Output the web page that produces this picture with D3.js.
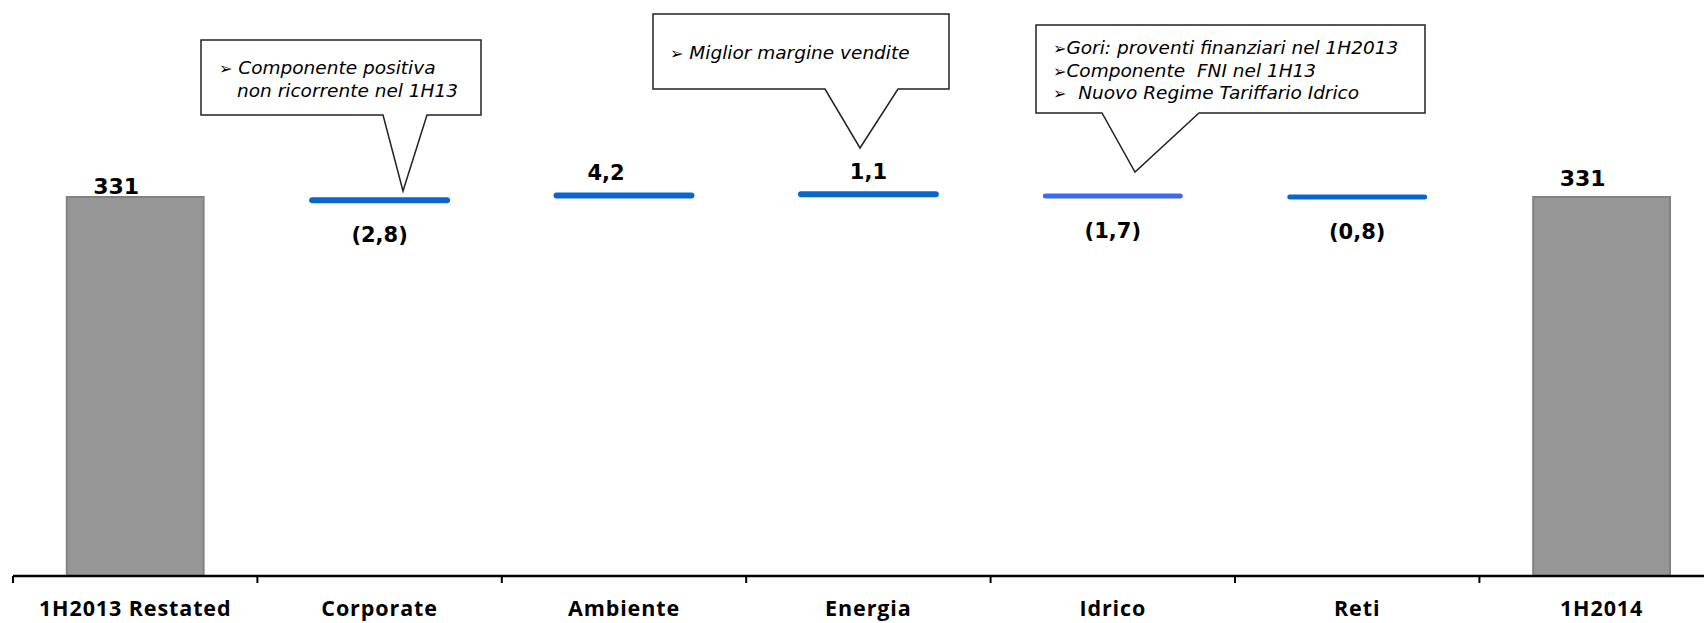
<!DOCTYPE html>
<html>
<head>
<meta charset="utf-8">
<script src="https://cdn.jsdelivr.net/npm/d3@7"></script>
<style>
  html, body { margin: 0; padding: 0; background: #fff; overflow: hidden; }
  .cat { font-family: "Open Sans", sans-serif; font-weight: 700; font-size: 21.5px; letter-spacing: 0.9px; }
  .val { font-family: "DejaVu Sans", Verdana, sans-serif; font-weight: 700; }
  .note { font-family: "DejaVu Sans", Verdana, sans-serif; font-style: italic; font-size: 18.5px; white-space: pre; }
</style>
</head>
<body>
<div id="chart"></div>
<script>
(function () {

  // categories of the waterfall
  var categories = ["1H2013 Restated", "Corporate", "Ambiente", "Energia", "Idrico", "Reti", "1H2014"];
  // "total" = full bar, "delta" = floating step
  var kinds = ["total", "delta", "delta", "delta", "delta", "delta", "total"];
  var values = [331, -2.8, 4.2, 1.1, -1.7, -0.8, 331];
  var valueLabels = ["331", "(2,8)", "4,2", "1,1", "(1,7)", "(0,8)", "331"];

  // callout texts, one entry per commented category
  var noteCategories = ["Corporate", "Energia", "Idrico"];
  var noteLines = [
    ["\u27A2 Componente positiva", "non ricorrente nel 1H13"],
    ["\u27A2 Miglior margine vendite"],
    ["\u27A2Gori: proventi finanziari nel 1H2013", "\u27A2Componente  FNI nel 1H13", "\u27A2  Nuovo Regime Tariffario Idrico"]
  ];

  var w = 1704,
    h = 623,
    axisY = 576,
    svg, x, y, rows;

  // callout boxes placed by hand like in the slide
  var noteLayout = {
    "Corporate": { x0: 201, y0: 40, x1: 481, y1: 115, b0: 383, b1: 427, tx: 403, ty: 191, textX: 219, indent: 18, firstY: 74 },
    "Energia":   { x0: 653, y0: 14, x1: 949, y1: 89,  b0: 825, b1: 898, tx: 860, ty: 148, textX: 670, indent: 18, firstY: 59 },
    "Idrico":    { x0: 1036, y0: 25, x1: 1425, y1: 113, b0: 1102, b1: 1199, tx: 1135, ty: 172, textX: 1053, indent: 18, firstY: 54 }
  };

  function buildRows() {
    var running = 0;
    rows = categories.map(function (c, i) {
      var r = { cat: c, kind: kinds[i], value: values[i], label: valueLabels[i] };
      if (r.kind === "total") {
        running = r.value;
      } else {
        running = running + r.value;
      }
      r.level = running;
      return r;
    });
  }

  function makeChart() {
    svg = d3.select("#chart").append("svg")
      .attr("width", w)
      .attr("height", h);

    x = d3.scaleBand()
      .domain(categories)
      .range([13, 13 + 244.4 * categories.length])
      .paddingInner(0.44)
      .paddingOuter(0.22);

    y = d3.scaleLinear()
      .domain([0, 331])
      .range([axisY, 197]);

    drawBars();
    drawAxis();
    drawLabels();
    drawNotes();
  }

  function drawBars() {
    var totals = rows.filter(function (d) { return d.kind === "total"; });
    var deltas = rows.filter(function (d) { return d.kind === "delta"; });

    svg.selectAll(".total").data(totals).enter()
      .append("rect")
      .attr("class", "total")
      .attr("x", function (d) { return x(d.cat); })
      .attr("y", function (d) { return y(d.value); })
      .attr("width", x.bandwidth())
      .attr("height", function (d) { return y(0) - y(d.value); })
      .attr("fill", "#969696")
      .attr("stroke", "#828282")
      .attr("stroke-width", 2);

    // steps are so small compared to the totals that they show as thick lines at the running level
    svg.selectAll(".delta").data(deltas).enter()
      .append("line")
      .attr("class", "delta")
      .attr("x1", function (d) { return x(d.cat) + 1; })
      .attr("x2", function (d) { return x(d.cat) + x.bandwidth() - 1; })
      .attr("y1", function (d) { return y(d.level); })
      .attr("y2", function (d) { return y(d.level); })
      .attr("stroke", function (d) { return d.cat === "Idrico" ? "#4169f0" : "#0a66cc"; })
      .attr("stroke-width", function (d) { return d.cat === "Idrico" || d.cat === "Reti" ? 5 : 6; })
      .attr("stroke-linecap", "round");
  }

  function drawAxis() {
    svg.append("line")
      .attr("x1", 13).attr("x2", w)
      .attr("y1", axisY).attr("y2", axisY)
      .attr("stroke", "#000")
      .attr("stroke-width", 2.5);

    var step = x.step();
    svg.selectAll(".tick").data(categories).enter()
      .append("line")
      .attr("class", "tick")
      .attr("x1", function (d) { return x(d) - step * x.paddingInner() / 2; })
      .attr("x2", function (d) { return x(d) - step * x.paddingInner() / 2; })
      .attr("y1", axisY)
      .attr("y2", axisY + 7)
      .attr("stroke", "#000")
      .attr("stroke-width", 2);

    svg.selectAll(".cat").data(categories).enter()
      .append("text")
      .attr("class", "cat")
      .attr("x", function (d) { return x(d) + x.bandwidth() / 2; })
      .attr("y", 616)
      .attr("text-anchor", "middle")
      .text(function (d) { return d; });
  }

  function drawLabels() {
    svg.selectAll(".val").data(rows).enter()
      .append("text")
      .attr("class", "val")
      .attr("x", function (d) {
        var c = x(d.cat) + x.bandwidth() / 2;
        if (d.kind === "total") return c - 19;
        if (d.cat === "Ambiente") return c - 18;
        return c;
      })
      .attr("y", function (d, i) {
        if (d.kind === "total") return y(d.level) - (i === 0 ? 3 : 11);
        if (d.value < 0) return y(d.level) + 42;
        return y(d.level) - 15;
      })
      .attr("text-anchor", "middle")
      .style("font-size", function (d) { return d.kind === "total" ? "22px" : "21px"; })
      .text(function (d) { return d.label; });
  }

  function drawNotes() {
    noteCategories.forEach(function (c, i) {
      var L = noteLayout[c];
      var path = "M" + L.x0 + "," + L.y0 + "H" + L.x1 + "V" + L.y1 + "H" + L.b1 +
        "L" + L.tx + "," + L.ty + "L" + L.b0 + "," + L.y1 + "H" + L.x0 + "Z";
      svg.append("path")
        .attr("d", path)
        .attr("fill", "#fff")
        .attr("stroke", "#222")
        .attr("stroke-width", 1.5);

      noteLines[i].forEach(function (line, j) {
        var t = svg.append("text")
          .attr("class", "note")
          .attr("y", L.firstY + j * 22.5);
        if (line.charAt(0) === "\u27A2") {
          t.attr("x", L.textX);
          t.append("tspan")
            .style("font-style", "normal")
            .style("font-size", "16px")
            .text("\u27A2");
          t.append("tspan")
            .attr("dx", 0)
            .text(line.slice(1));
        } else {
          t.attr("x", L.textX + L.indent).text(line);
        }
      });
    });
  }

  buildRows();
  makeChart();
})();
</script>
</body>
</html>
